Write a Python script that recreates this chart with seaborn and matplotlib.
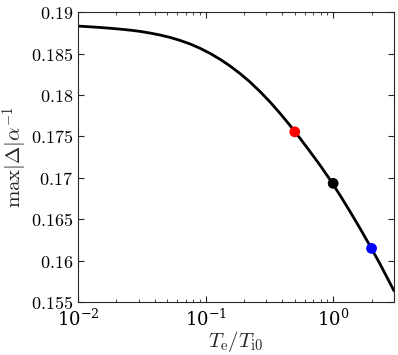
import numpy as np
import pandas as pd
import matplotlib
matplotlib.use('Agg')
import matplotlib.pyplot as plt
import matplotlib.ticker as mticker
import seaborn as sns

# curve (x = Te/Ti0, y = max|Delta|/alpha)
te_ti = [0.01, 0.0122, 0.0149, 0.0178, 0.0214, 0.0256, 0.0306, 0.0367,
         0.0440, 0.0527, 0.0631, 0.0756, 0.0905, 0.1085, 0.1300, 0.1557,
         0.1865, 0.2234, 0.2676, 0.3206, 0.3840, 0.4601, 0.5511, 0.6602,
         0.7908, 0.9473, 1.135, 1.359, 1.628, 1.951, 2.337, 3.0]
max_delta = [0.18831, 0.18823, 0.18814, 0.18805, 0.18794, 0.18782, 0.18767,
             0.18747, 0.18723, 0.18694, 0.18658, 0.18615, 0.18563, 0.18501,
             0.18430, 0.18349, 0.18257, 0.18155, 0.18040, 0.17914, 0.17777,
             0.17630, 0.17475, 0.17314, 0.17150, 0.16975, 0.16787, 0.16591,
             0.16387, 0.16175, 0.15956, 0.15636]

# highlighted points
pt_x = [0.5, 1.0, 2.0]
pt_y = [0.17555, 0.16933, 0.16148]
pt_colors = ['#ff0000', '#000000', '#0000ff']

y_ticks = [0.155, 0.16, 0.165, 0.17, 0.175, 0.18, 0.185, 0.19]

sns.set_style('ticks')
plt.rcParams['mathtext.fontset'] = 'cm'
plt.rcParams['font.family'] = ['DejaVu Serif']

curve = pd.DataFrame({'x': te_ti, 'y': max_delta})
pts = pd.DataFrame({'x': pt_x, 'y': pt_y, 'c': pt_colors})

fig = plt.figure(figsize=(3.98, 3.55), dpi=100)
ax = fig.add_axes([0.196, 0.149, 0.794, 0.817])

sns.lineplot(data=curve, x='x', y='y', color='black', linewidth=2, ax=ax)
sns.scatterplot(data=pts, x='x', y='y', hue='c', palette=pt_colors,
                s=60, edgecolor='none', legend=False, ax=ax, zorder=3)

ax.set_xscale('log')
ax.set_xlim(0.01, 3)
ax.set_ylim(0.155, 0.19)
ax.set_yticks(y_ticks)
ax.yaxis.set_major_formatter(mticker.FuncFormatter(lambda v, p: f'${v:g}$'))
ax.xaxis.set_major_locator(mticker.LogLocator(base=10))
ax.xaxis.set_minor_locator(mticker.LogLocator(base=10, subs=np.arange(2, 10)))
ax.xaxis.set_minor_formatter(mticker.NullFormatter())

for s in ax.spines.values():
    s.set_color('#262626')
    s.set_linewidth(0.8)
ax.tick_params(which='both', direction='in', top=True, right=True,
               colors='#262626', labelcolor='black', labelsize=13)
ax.tick_params(which='major', length=4)
ax.tick_params(which='minor', length=2.5)
ax.tick_params(axis='x', which='major', pad=5)

ax.set_xlabel(r'$T_{\rm e}/T_{\rm i0}$', fontsize=15, labelpad=-1)
ax.set_ylabel(r'$\max|\Delta|\alpha^{-1}$', fontsize=15, labelpad=1)

fig.savefig('out.png', dpi=100)
